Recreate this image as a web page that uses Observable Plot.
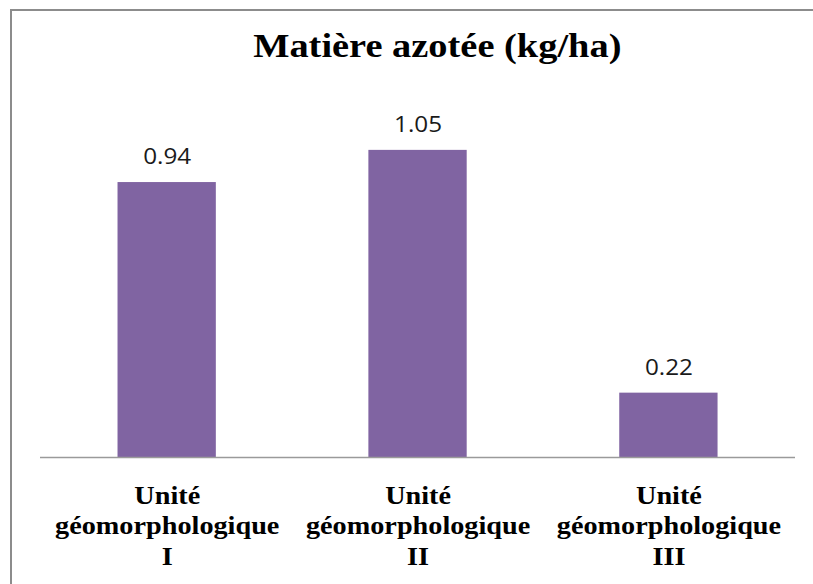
<!DOCTYPE html>
<html>
<head>
<meta charset="utf-8">
<script src="https://cdn.jsdelivr.net/npm/d3@7"></script>
<script src="https://cdn.jsdelivr.net/npm/@observablehq/plot@0.6"></script>
<style>
  html, body { margin: 0; padding: 0; background: #fff; overflow: hidden; }
  #wrap { position: relative; width: 813px; height: 584px; overflow: hidden; }
  #wrap svg { position: absolute; left: 0; top: 0; }
  #frame { position: absolute; left: 10px; top: 9px; width: 1000px; height: 1000px;
           border: 2px solid #8c8c8c; pointer-events: none; }
</style>
</head>
<body>
<div id="wrap"><div id="frame"></div></div>
<script>
const title = "Matière azotée (kg/ha)";
const categories = ["Unité géomorphologique I", "Unité géomorphologique II", "Unité géomorphologique III"];
const values = [0.94, 1.05, 0.22];
const valueLabels = ["0.94", "1.05", "0.22"];

const data = categories.map((c, i) => ({cat: c, value: values[i], label: valueLabels[i]}));

const stretch = 1.13;          // horizontal stretch of the original picture
const W = 813 / stretch;

const chart = Plot.plot({
  width: W,
  height: 584,
  marginLeft: 40 / stretch,
  marginRight: W - 795 / stretch,
  marginTop: 47.5,
  marginBottom: 127,
  x: {domain: categories, paddingInner: 0.606, paddingOuter: 0.303, axis: null},
  y: {domain: [0, 1.4], axis: null},
  marks: [
    Plot.barY(data, {x: "cat", y: "value", fill: "#8064A2"}),
    Plot.ruleY([0], {stroke: "#9a9a9a", strokeWidth: 1.6}),
    Plot.text(data, {x: "cat", y: "value", text: "label", dy: -25,
      fontSize: 21.5, fontFamily: "Open Sans", fill: "#1a1a1a"}),
    Plot.text(categories, {x: d => d, y: 0, text: d => d.split(" ").join("\n"),
      lineAnchor: "top", dy: 24, lineHeight: 1.24,
      fontSize: 25, fontWeight: "bold", fontFamily: "Liberation Serif", fill: "#000"}),
    Plot.text([title], {frameAnchor: "top", dx: 17, dy: -15,
      fontSize: 34, fontWeight: "bold", fontFamily: "Liberation Serif", fill: "#000"})
  ]
});

chart.setAttribute("width", 813);
chart.setAttribute("height", 584);
chart.setAttribute("preserveAspectRatio", "none");
chart.style.maxWidth = "none";
chart.style.width = "813px";
chart.style.height = "584px";
chart.style.background = "transparent";

const wrap = document.getElementById("wrap");
wrap.insertBefore(chart, wrap.firstChild);
</script>
</body>
</html>
